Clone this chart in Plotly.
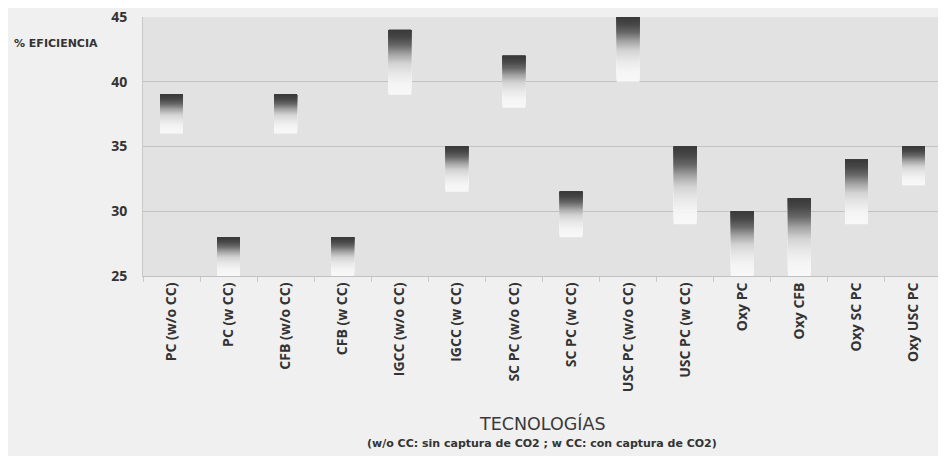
import plotly.graph_objects as go

categories = ["PC (w/o CC)", "PC (w CC)", "CFB (w/o CC)", "CFB (w CC)", "IGCC (w/o CC)",
              "IGCC (w CC)", "SC PC (w/o CC)", "SC PC (w CC)", "USC PC (w/o CC)",
              "USC PC (w CC)", "Oxy PC", "Oxy CFB", "Oxy SC PC", "Oxy USC PC"]
eff_low = [36, 25, 36, 25, 39, 31.5, 38, 28, 40, 29, 25, 25, 29, 32]
eff_high = [39, 28, 39, 28, 44, 35, 42, 31.5, 45, 35, 30, 31, 34, 35]
y_ticks = [25, 30, 35, 40, 45]

# vertical gradient: fraction of bar height (0 = bottom) -> grey level
grad_stops = [(0.0, 248), (0.18, 244), (0.32, 232), (0.48, 212), (0.62, 165), (0.76, 105), (0.88, 72), (1.0, 58)]

def grey_at(f):
    for (f0, g0), (f1, g1) in zip(grad_stops[:-1], grad_stops[1:]):
        if f0 <= f <= f1:
            t = (f - f0) / (f1 - f0) if f1 > f0 else 0
            g = round(g0 + t * (g1 - g0))
            return f"rgb({g},{g},{g})"
    g = grad_stops[-1][1]
    return f"rgb({g},{g},{g})"

N = 40
fig = go.Figure()
for k in range(N):
    f = k / N
    bases = [lo + f * (hi - lo) for lo, hi in zip(eff_low, eff_high)]
    heights = [hi - b for hi, b in zip(eff_high, bases)]
    fig.add_trace(go.Bar(x=categories, y=heights, base=bases, width=0.4,
                         marker=dict(color=grey_at(f + 0.5 / N), line=dict(width=0)),
                         showlegend=False, hoverinfo="skip"))

font_main = "Open Sans"
fig.update_layout(
    barmode="overlay",
    width=938, height=448,
    margin=dict(l=135, r=4, t=9, b=180, autoexpand=False),
    paper_bgcolor="#f0f0f0",
    plot_bgcolor="#e2e2e2",
    font=dict(family=font_main, color="#333333"),
    xaxis=dict(type="category", tickangle=-90, showgrid=False, automargin=False,
               tickfont=dict(size=14, family=font_main, color="#333333", weight="bold"),
               ticks="outside", ticklen=5, tickcolor="#c8c8c8", tickson="boundaries",
               showline=True, linecolor="#c0c0c0", linewidth=1),
    yaxis=dict(range=[25, 45], tickvals=y_ticks, showgrid=True, gridcolor="#c2c2c2", gridwidth=1,
               automargin=False,
               tickfont=dict(size=14, color="#333333", weight="bold"), ticklabeloverflow="allow",
               showline=True, linecolor="#c8c8c8", zeroline=False, ticks="", ticklabelstandoff=12),
    annotations=[
        dict(text="% EFICIENCIA", xref="paper", yref="paper", x=-0.164, y=0.896,
             xanchor="left", yanchor="middle", showarrow=False,
             font=dict(size=11, family="DejaVu Sans", color="#333333", weight="bold")),
        dict(text="TECNOLOGÍAS", xref="paper", yref="paper", x=0.5, y=-0.5676,
             xanchor="center", yanchor="middle", showarrow=False,
             font=dict(size=17.5, family="DejaVu Sans", color="#3a3a3a")),
        dict(text="(w/o CC: sin captura de CO2 ; w CC: con captura de CO2)", xref="paper", yref="paper",
             x=0.4994, y=-0.645, xanchor="center", yanchor="middle", showarrow=False,
             font=dict(size=11, family="DejaVu Sans", color="#333333", weight="bold")),
    ],
)
fig.write_html("out.html")
